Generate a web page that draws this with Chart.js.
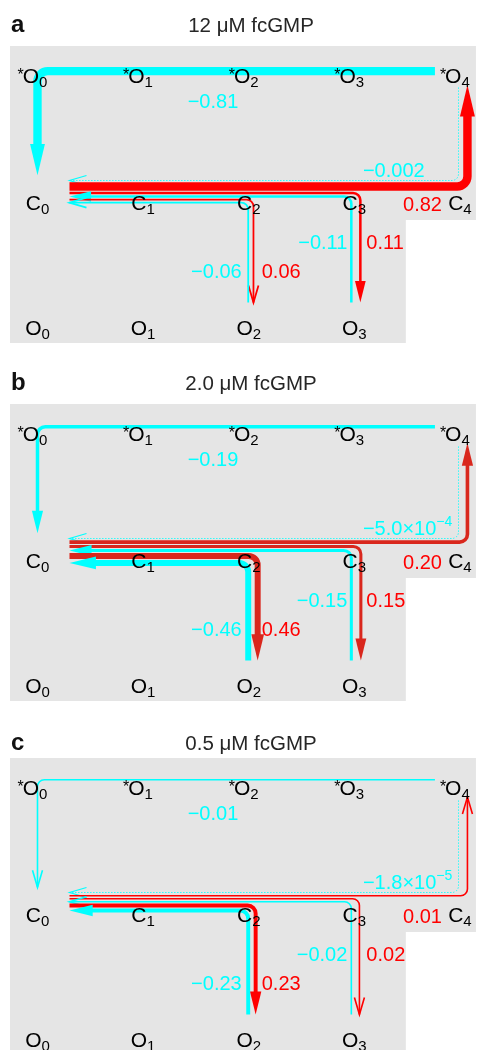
<!DOCTYPE html>
<html><head><meta charset="utf-8">
<script src="https://cdn.jsdelivr.net/npm/chart.js@4.4.1/dist/chart.umd.min.js"></script>
<style>
html,body{margin:0;padding:0;background:#fff;width:478px;height:1050px;overflow:hidden;position:relative}
canvas{position:absolute;left:0}
</style></head><body>
<canvas id="pa" width="478" height="356" style="top:0px"></canvas>
<canvas id="pb" width="478" height="355" style="top:358px"></canvas>
<canvas id="pc" width="478" height="338" style="top:712px"></canvas>
<script>
// ---------- data ----------
const panelLetters = ['a', 'b', 'c'];
const panelTitles = ['12 \u03bcM fcGMP', '2.0 \u03bcM fcGMP', '0.5 \u03bcM fcGMP'];
const nodeColumns = [0, 1, 2, 3, 4];
const rowNames = ['*O', 'C', 'O'];
const rowNodeCount = [5, 5, 4];
// fluxes per panel (a, b, c)
const fluxStarO4toC0 = [-0.81, -0.19, -0.01];        // cyan, *O4 -> *O0 -> C0
const fluxC0toStarO4 = [0.82, 0.20, 0.01];           // red,  C0 -> C4 -> *O4
const fluxStarO4toC0viaC4 = [-0.002, -5.0e-4, -1.8e-5]; // cyan dotted, *O4 -> C4 -> C0
const fluxC0toO3 = [0.11, 0.15, 0.02];
const fluxO3toC0 = [-0.11, -0.15, -0.02];
const fluxC0toO2 = [0.06, 0.46, 0.23];
const fluxO2toC0 = [-0.06, -0.46, -0.23];

// ---------- style ----------
const CYAN = '#00ffff';
const RED_LINE = ['#ff0000', '#d9271d', '#ff0000'];
const RED_TEXT = '#ff0000';
const GRAY = '#e5e5e5';
const FONT = '"Liberation Sans", Arial, Helvetica, sans-serif';
const TITLE_BASE = [31.7, 32, 37.5];

function isDotted(f) { return Math.abs(f) < 0.005; }
function widthOf(f) { return isDotted(f) ? 1 : Math.max(1.6, 9.5 * Math.pow(Math.abs(f), 0.6)); }

function fmt(v) {
  const a = Math.abs(v), s = v < 0 ? '\u2212' : '';
  if (a >= 0.01) return { main: s + a.toFixed(2) };
  if (a >= 0.001) return { main: s + a.toFixed(3) };
  const e = Math.floor(Math.log10(a));
  const m = a / Math.pow(10, e);
  return { main: s + m.toFixed(1) + '\u00d710', sup: '\u2212' + (-e) };
}

function roundedPath(ctx, pts, r) {
  ctx.beginPath();
  ctx.moveTo(pts[0][0], pts[0][1]);
  for (let i = 1; i < pts.length - 1; i++) ctx.arcTo(pts[i][0], pts[i][1], pts[i + 1][0], pts[i + 1][1], r);
  ctx.lineTo(pts[pts.length - 1][0], pts[pts.length - 1][1]);
}

function drawFlux(ctx, rawPts, f, color) {
  const w = widthOf(f), dotted = isDotted(f);
  const pts = dotted ? rawPts.map(p => [Math.floor(p[0]) + 0.5, Math.floor(p[1]) + 0.5]) : rawPts;
  const filled = !dotted && w >= 2.4;
  const n = pts.length, tip = pts[n - 1], prev = pts[n - 2];
  let dx = tip[0] - prev[0], dy = tip[1] - prev[1];
  const len = Math.hypot(dx, dy); dx /= len; dy /= len;
  const L = filled ? 20 + 14 * Math.abs(f) : 17;
  const W = filled ? 10 + 6 * Math.abs(f) : 10;
  const body = pts.map(p => p.slice());
  if (filled) body[n - 1] = [tip[0] - dx * L * 0.6, tip[1] - dy * L * 0.6];
  ctx.save();
  ctx.strokeStyle = color; ctx.lineWidth = w; ctx.lineCap = 'butt'; ctx.lineJoin = 'miter';
  if (dotted) ctx.setLineDash([1.2, 1.8]);
  roundedPath(ctx, body, 6 + w * 0.5);
  ctx.stroke();
  ctx.setLineDash([]);
  const nx = -dy, ny = dx;
  const bx = tip[0] - dx * L, by = tip[1] - dy * L;
  if (filled) {
    ctx.fillStyle = color;
    ctx.beginPath();
    ctx.moveTo(tip[0], tip[1]);
    ctx.lineTo(bx + nx * W / 2, by + ny * W / 2);
    ctx.lineTo(bx - nx * W / 2, by - ny * W / 2);
    ctx.closePath(); ctx.fill();
  } else {
    ctx.lineWidth = dotted ? 1.2 : w;
    ctx.beginPath();
    ctx.moveTo(bx + nx * W / 2, by + ny * W / 2);
    ctx.lineTo(tip[0], tip[1]);
    ctx.lineTo(bx - nx * W / 2, by - ny * W / 2);
    ctx.stroke();
  }
  ctx.restore();
}

function valueLabel(ctx, v, x, cy, color, align) {
  const t = fmt(v);
  ctx.font = '20px ' + FONT; const wm = ctx.measureText(t.main).width;
  let ws = 0;
  if (t.sup) { ctx.font = '14px ' + FONT; ws = ctx.measureText(t.sup).width; }
  const total = wm + ws;
  const x0 = align === 'left' ? x : align === 'right' ? x - total : x - total / 2;
  ctx.fillStyle = color; ctx.textAlign = 'left'; ctx.textBaseline = 'alphabetic';
  ctx.font = '20px ' + FONT; ctx.fillText(t.main, x0, cy + 7.2);
  if (t.sup) { ctx.font = '14px ' + FONT; ctx.fillText(t.sup, x0 + wm, cy + 7.2 - 9); }
}

function nodeLabel(ctx, main, sub, cx, cy, star) {
  ctx.textAlign = 'left'; ctx.textBaseline = 'alphabetic'; ctx.fillStyle = '#000';
  ctx.font = '21px ' + FONT; const wm = ctx.measureText(main).width;
  ctx.font = '15px ' + FONT; const ws = ctx.measureText(sub).width;
  const x0 = cx - (wm + ws) / 2, base = cy + 7.5;
  ctx.font = '21px ' + FONT; ctx.fillText(main, x0, base);
  ctx.font = '15px ' + FONT; ctx.fillText(sub, x0 + wm, base + 4);
  if (star) {
    ctx.font = '16px ' + FONT;
    const wst = ctx.measureText('*').width;
    ctx.fillText('*', x0 - wst + 1, base - 3);
  }
}

function panelPlugin(p) {
  return {
    id: 'flux' + p,
    beforeDraw(chart) {
      const ctx = chart.ctx, X = v => chart.scales.x.getPixelForValue(v), Y = v => chart.scales.y.getPixelForValue(v);
      ctx.save();
      ctx.fillStyle = '#fff'; ctx.fillRect(0, 0, chart.width, chart.height);
      ctx.fillStyle = GRAY;
      ctx.beginPath();
      ctx.moveTo(X(0) - 27.5, Y(0) - 31);
      ctx.lineTo(X(4) + 16, Y(0) - 31);
      ctx.lineTo(X(4) + 16, Y(1) + 17.7);
      ctx.lineTo(X(3) + 51.5, Y(1) + 17.7);
      ctx.lineTo(X(3) + 51.5, Y(2) + 15.5);
      ctx.lineTo(X(0) - 27.5, Y(2) + 15.5);
      ctx.closePath(); ctx.fill();
      ctx.restore();
    },
    afterDraw(chart) {
      const ctx = chart.ctx, X = v => chart.scales.x.getPixelForValue(v), Y = v => chart.scales.y.getPixelForValue(v);
      const red = RED_LINE[p];
      ctx.save();
      ctx.textBaseline = 'alphabetic';
      ctx.fillStyle = '#111'; ctx.textAlign = 'left'; ctx.font = 'bold 24px ' + FONT;
      ctx.fillText(panelLetters[p], 11, TITLE_BASE[p]);
      ctx.fillStyle = '#262626'; ctx.textAlign = 'center'; ctx.font = '20.5px ' + FONT;
      ctx.fillText(panelTitles[p], 251, TITLE_BASE[p]);
      ctx.restore();

      const fTop = fluxStarO4toC0[p], fR4 = fluxC0toStarO4[p], fD4 = fluxStarO4toC0viaC4[p];
      const fR3 = fluxC0toO3[p], fC3 = fluxO3toC0[p], fR2 = fluxC0toO2[p], fC2 = fluxO2toC0[p];
      const wTop = widthOf(fTop), yTop = Y(0) - 10 + wTop / 2;
      const stack = [fD4, fR4, fR3, fC3, fR2, fC2].map(widthOf);
      const yc = []; let y = Y(1) - 21.5; yc.push(y);
      for (let i = 1; i < stack.length; i++) { y += Math.max(3, (stack[i - 1] + stack[i]) / 2 + 1); yc.push(y); }
      const xLeft = X(0) + 32, yBot = Y(2) - 25;
      const xc2 = X(2) - 0.5, xr2 = xc2 + (widthOf(fC2) + widthOf(fR2)) / 2 + 3.5;
      const xc3 = X(3) - 3, xr3 = xc3 + (widthOf(fC3) + widthOf(fR3)) / 2 + 6.5;
      const xd4 = X(4) - 1.5, xr4 = X(4) + 7.5;

      drawFlux(ctx, [[X(4) - 25, yTop], [X(0), yTop], [X(0), Y(1) - 27]], fTop, CYAN);
      drawFlux(ctx, [[xd4, Y(0) + 11], [xd4, yc[0]], [xLeft, yc[0]]], fD4, CYAN);
      drawFlux(ctx, [[xLeft, yc[1]], [xr4, yc[1]], [xr4, Y(0) + 8]], fR4, red);
      drawFlux(ctx, [[xLeft, yc[2]], [xr3, yc[2]], [xr3, yBot]], fR3, red);
      drawFlux(ctx, [[xc3, yBot], [xc3, yc[3]], [xLeft, yc[3]]], fC3, CYAN);
      drawFlux(ctx, [[xLeft, yc[4]], [xr2, yc[4]], [xr2, yBot]], fR2, red);
      drawFlux(ctx, [[xc2, yBot], [xc2, yc[5]], [xLeft, yc[5]]], fC2, CYAN);

      for (let r = 0; r < rowNames.length; r++) {
        for (let k = 0; k < rowNodeCount[r]; k++) {
          const star = rowNames[r].startsWith('*');
          const main = star ? rowNames[r].slice(1) : rowNames[r];
          nodeLabel(ctx, main, String(nodeColumns[k]), X(nodeColumns[k]) - (star ? 2.5 : 0), Y(r) - (r === 0 ? 2 : 0), star);
        }
      }
      valueLabel(ctx, fTop, X(0) + 175.5, Y(0) + 24, CYAN, 'center');
      valueLabel(ctx, fD4, X(4) - 97, Y(1) - 33, CYAN, 'left');
      valueLabel(ctx, fR4, X(4) - 18, Y(1) + 1.5, RED_TEXT, 'right');
      valueLabel(ctx, fC3, X(3) - 7, Y(1) + 39.5, CYAN, 'right');
      valueLabel(ctx, fR3, X(3) + 12, Y(1) + 39.5, RED_TEXT, 'left');
      valueLabel(ctx, fC2, X(2) - 7, Y(1) + 68.5, CYAN, 'right');
      valueLabel(ctx, fR2, X(2) + 13, Y(1) + 68.5, RED_TEXT, 'left');
    }
  };
}

function makePanel(p, id) {
  const cv = document.getElementById(id);
  const H = cv.height;
  return new Chart(cv, {
    type: 'scatter',
    data: { datasets: [{ data: [], pointRadius: 0 }] },
    options: {
      responsive: false, animation: false, devicePixelRatio: 1,
      layout: { padding: 0 },
      plugins: { legend: { display: false }, tooltip: { enabled: false } },
      scales: {
        x: { type: 'linear', display: false, min: -0.355, max: 4.171 },
        y: { type: 'linear', display: false, reverse: true, min: -77 / 125.3, max: (H - 77) / 125.3 }
      }
    },
    plugins: [panelPlugin(p)]
  });
}
makePanel(0, 'pa');
makePanel(1, 'pb');
makePanel(2, 'pc');
</script>
</body></html>
